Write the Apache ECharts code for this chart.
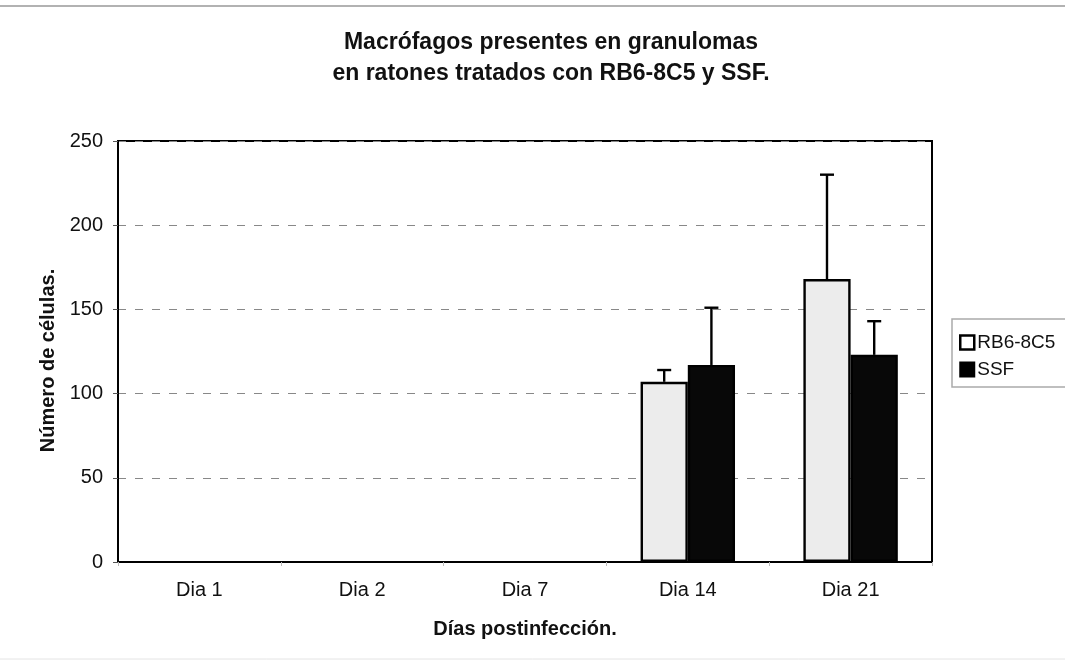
<!DOCTYPE html>
<html>
<head>
<meta charset="utf-8">
<script src="https://cdn.jsdelivr.net/npm/echarts@6/dist/echarts.min.js"></script>
<style>html,body{margin:0;padding:0;background:#fff;}#c{width:1065px;height:662px;}</style>
</head>
<body>
<div id="c"></div>
<script>
const categories = ['Dia 1', 'Dia 2', 'Dia 7', 'Dia 14', 'Dia 21'];
const rb6 = [null, null, null, 107, 168];
const rb6Err = [null, null, null, 7, 62];
const ssf = [null, null, null, 117, 123];
const ssfErr = [null, null, null, 34, 20];
const yTicks = [0, 50, 100, 150, 200, 250];

const FONT = '"Liberation Sans", Arial, sans-serif';
const BAR_FRAC = 0.29;

function errData(vals, errs) {
  const out = [];
  vals.forEach((v, i) => { if (v != null && errs[i] != null) out.push([i, v, errs[i]]); });
  return out;
}
function errRender(side) {
  return function (params, api) {
    const i = api.value(0), v = api.value(1), e = api.value(2);
    const band = api.size([1, 0])[0];
    const bw = band * BAR_FRAC;
    const base = api.coord([i, v]);
    const top = api.coord([i, v + e]);
    const x = base[0] + side * bw / 2;
    const cap = 7;
    const st = { stroke: '#000', lineWidth: 2.4 };
    return { type: 'group', children: [
      { type: 'line', shape: { x1: x, y1: base[1], x2: x, y2: top[1] }, style: st },
      { type: 'line', shape: { x1: x - cap, y1: top[1], x2: x + cap, y2: top[1] }, style: st }
    ]};
  };
}

const chart = echarts.init(document.getElementById('c'), null, { renderer: 'canvas' });
chart.setOption({
  animation: false,
  backgroundColor: '#fff',
  title: {
    text: 'Macrófagos presentes en granulomas\nen ratones tratados con RB6-8C5 y SSF.',
    left: 546, top: 22, textAlign: 'center',
    textStyle: { fontFamily: FONT, fontWeight: 'bold', fontSize: 23, lineHeight: 31, color: '#111' }
  },
  legend: {
    orient: 'vertical', left: 952, top: 319,
    itemWidth: 14, itemHeight: 14, itemGap: 8,
    padding: [14, 60, 8, 7],
    borderColor: '#aaa', borderWidth: 1.5,
    textStyle: { fontFamily: FONT, fontSize: 19, color: '#111', padding: [0, 0, 0, -2] },
    data: [
      { name: 'RB6-8C5', icon: 'rect', itemStyle: { color: '#fff', borderColor: '#000', borderWidth: 2.5 } },
      { name: 'SSF', icon: 'rect', itemStyle: { color: '#000' } }
    ]
  },
  grid: { left: 118, right: 133, top: 141, bottom: 100, show: true, borderColor: '#000', borderWidth: 2, containLabel: false },
  xAxis: {
    type: 'category', data: categories,
    name: 'Días postinfección.', nameLocation: 'middle', nameGap: 57,
    nameTextStyle: { fontFamily: FONT, fontWeight: 'bold', fontSize: 20, color: '#111' },
    axisLine: { lineStyle: { color: '#000', width: 2 } },
    axisTick: { show: true, alignWithLabel: false, length: 4, lineStyle: { color: '#bbb' } },
    axisLabel: { fontFamily: FONT, fontSize: 20, color: '#111', margin: 18 }
  },
  yAxis: {
    type: 'value', min: yTicks[0], max: yTicks[yTicks.length - 1], interval: 50,
    name: 'Número de células.', nameLocation: 'middle', nameGap: 56, nameRotate: 90,
    nameTextStyle: { fontFamily: FONT, fontWeight: 'bold', fontSize: 20, color: '#111', padding: [0, 0, 0, -18] },
    axisLine: { show: true, lineStyle: { color: '#000', width: 2 } },
    axisTick: { show: true, length: 5, lineStyle: { color: '#555' } },
    axisLabel: { fontFamily: FONT, fontSize: 20, color: '#111', margin: 15 },
    splitLine: { show: true, lineStyle: { color: '#888', type: [8, 9], width: 1.2 } }
  },
  series: [
    { name: 'RB6-8C5', type: 'bar', data: rb6, barWidth: (BAR_FRAC * 100) + '%', barGap: '0%',
      itemStyle: { color: '#ececec', borderColor: '#000', borderWidth: 2.4 } },
    { name: 'SSF', type: 'bar', data: ssf, barWidth: (BAR_FRAC * 100) + '%', barGap: '0%',
      itemStyle: { color: '#080808', borderColor: '#000', borderWidth: 2.4 } },
    { name: 'errRB6', type: 'custom', data: errData(rb6, rb6Err), renderItem: errRender(-1), z: 1 },
    { name: 'errSSF', type: 'custom', data: errData(ssf, ssfErr), renderItem: errRender(1), z: 1 }
  ],
  graphic: [
    { type: 'line', shape: { x1: 0, y1: 6, x2: 1065, y2: 6 }, style: { stroke: '#999', lineWidth: 1.5 } },
    { type: 'line', shape: { x1: 0, y1: 659, x2: 1065, y2: 659 }, style: { stroke: '#e4e4e4', lineWidth: 1 } }
  ]
});
</script>
</body>
</html>
